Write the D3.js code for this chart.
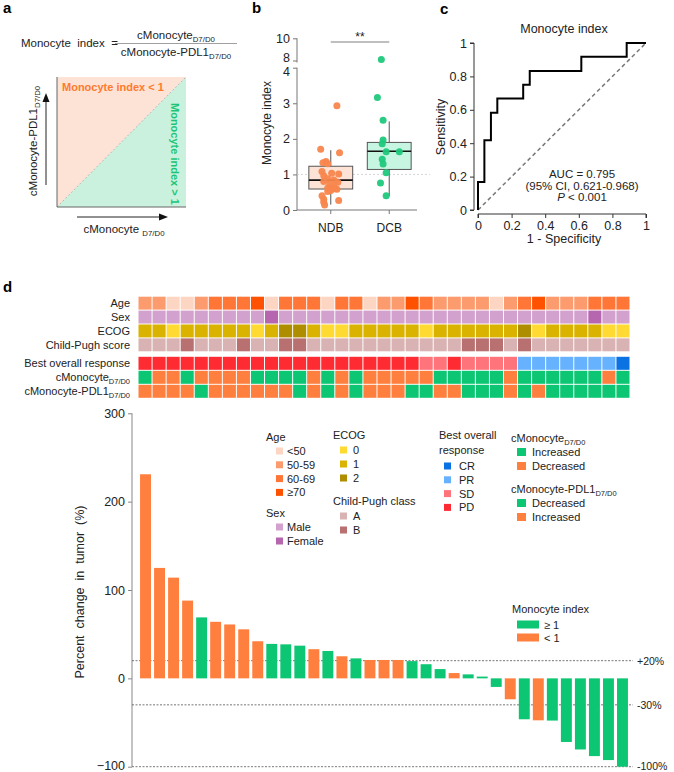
<!DOCTYPE html>
<html><head><meta charset="utf-8">
<script src="https://cdn.jsdelivr.net/npm/d3@7"></script>
<style>body{margin:0;background:#fff}svg{display:block;font-family:"Liberation Sans",Arial,sans-serif}</style>
</head><body>
<svg id="chart" width="674" height="772"></svg>
<script>
// ---------------- DATA ----------------
// Panel b
const groupsB = ["NDB", "DCB"];
const ndbValues = [2.93,1.71,1.61,1.36,1.33,1.30,1.08,1.03,1.01,0.96,0.88,0.84,0.80,0.78,0.72,0.66,0.62,0.58,0.55,0.52,0.40,0.30,0.27,0.22,0.14,0.60];
const ndbJitter = [0.14,-0.23,0.2,-0.11,-0.18,-0.07,-0.2,0.02,0.18,-0.16,-0.07,0.07,-0.16,0.16,-0.02,0.07,-0.07,0.14,0,-0.07,-0.2,-0.16,0.18,-0.16,-0.14,0.09];
const dcbValues = [8.1,3.16,2.52,1.97,1.86,1.64,1.64,1.43,1.29,1.05,0.76,0.40];
const dcbJitter = [-0.18,-0.27,-0.14,-0.14,-0.16,-0.07,0.23,-0.16,-0.14,-0.07,-0.2,-0.07];
const boxStats = { // [lowerWhisker, q1, median, q3, upperWhisker]
  NDB: [0.15, 0.59, 0.84, 1.23, 1.68],
  DCB: [0.39, 1.14, 1.65, 1.90, 2.49]
};
const lowerTicksB = [0,1,2,3,4];
const upperTicksB = [8,10];
// Panel c ROC
const rocFPR  = [0,0,0.038,0.038,0.077,0.077,0.115,0.115,0.269,0.269,0.308,0.308,0.615,0.615,0.885,0.885,1];
const rocTPR  = [0,0.167,0.167,0.417,0.417,0.583,0.583,0.667,0.667,0.75,0.75,0.833,0.833,0.917,0.917,1,1];
const rocTicks = [0,0.2,0.4,0.6,0.8,1];
// Panel d heatmap
const ageGroup = ["50-59","50-59","<50","<50","50-59","60-69","60-69","60-69","≥70","<50",
  "60-69","60-69","60-69","<50","60-69","60-69","<50","50-59","50-59","≥70",
  "60-69","50-59","50-59","50-59","50-59","<50","50-59","60-69","≥70","50-59",
  "50-59","50-59","60-69","60-69","60-69"];
const sex = ["Male","Male","Male","Male","Male","Male","Male","Male","Male","Female",
  "Male","Male","Male","Male","Male","Male","Male","Male","Male","Male",
  "Male","Male","Male","Male","Male","Male","Male","Male","Male","Male",
  "Male","Male","Female","Male","Male"];
const ecog = ["1","1","0","1","1","1","1","1","0","1","2","2","1","0","0","1","1","1","1","1",
  "0","1","1","1","1","1","1","2","0","1","1","1","1","0","0"];
const childPugh = ["A","A","A","B","A","A","A","B","A","A","B","B","A","A","A","A","A","A","A","A",
  "A","A","A","B","B","B","A","B","A","A","A","A","A","A","A"];
const bestResponse = ["PD","PD","PD","PD","PD","PD","PD","PD","PD","PD","PD","PD","PD","PD","PD","PD","PD","PD","PD","PD",
  "SD","SD","PD","SD","SD","SD","SD","PR","PR","PR","PR","PR","PR","PR","CR"];
const cMono = ["Increased","Decreased","Decreased","Increased","Decreased","Decreased","Decreased","Decreased","Increased","Increased",
  "Increased","Increased","Decreased","Increased","Decreased","Increased","Decreased","Decreased","Decreased","Decreased",
  "Decreased","Increased","Increased","Increased","Increased","Increased","Decreased","Increased","Increased","Increased",
  "Increased","Increased","Increased","Decreased","Increased"];
const cMonoPDL1 = ["Increased","Increased","Increased","Increased","Decreased","Increased","Increased","Increased","Increased","Increased",
  "Increased","Decreased","Increased","Decreased","Increased","Decreased","Increased","Increased","Increased","Decreased",
  "Decreased","Increased","Increased","Decreased","Decreased","Decreased","Increased","Decreased","Increased","Decreased",
  "Decreased","Decreased","Decreased","Decreased","Decreased"];
// Waterfall
const pctChange = [231,125,114,88,69,64,61,55.5,42,39,38.5,37,33,31,25,22.6,20.8,20.8,20.8,19.5,
  16,10.5,6,4.5,2,-9.7,-23.7,-46.3,-47.5,-47.8,-72,-80.5,-88,-92.5,-100];
const monoIndexGroup = ["<1","<1","<1","<1","≥1","<1","<1","<1","<1","≥1","≥1","≥1","<1","≥1","<1","≥1","<1","<1","<1","≥1",
  "≥1","≥1","<1","≥1","≥1","≥1","<1","≥1","<1","≥1","≥1","≥1","≥1","≥1","≥1"];
const waterTicks = [300,200,100,0,-100];
const refLines = [20,-30,-100];
const refLabels = ["+20%","-30%","-100%"];

// ---------------- COLOURS ----------------
const GREEN = "#0DC673", ORANGE = "#FF7F3F";
const colAge = {"<50":"#FDD6C3","50-59":"#FC9B6D","60-69":"#FF7636","≥70":"#FF5200"};
const colSex = {"Male":"#D3A1CD","Female":"#B566AE"};
const colEcog = {"0":"#FFDA33","1":"#DAB300","2":"#AE8D00"};
const colCP = {"A":"#D9B3B3","B":"#B87070"};
const colBOR = {"CR":"#0A72E3","PR":"#66B2FF","SD":"#FF737A","PD":"#FF2B33"};
const colMono = {"Increased":GREEN,"Decreased":ORANGE};
const colPDL1 = {"Decreased":GREEN,"Increased":ORANGE};
const colIdx = {"≥1":GREEN,"<1":ORANGE};

const svg = d3.select("#chart");
const TXT = "#222";

function rich(sel, x, y, parts, size, anchor, transform) {
  const t = sel.append("text").attr("font-size", size).attr("fill", TXT)
    .attr("text-anchor", anchor || "start");
  if (transform) t.attr("transform", transform); else t.attr("x", x).attr("y", y);
  let shifted = false;
  parts.forEach(p => {
    const s = t.append("tspan").text(p[0]);
    if (p[1]) { s.attr("font-size", size * 0.68).attr("dy", size * 0.28); shifted = true; }
    else if (shifted) { s.attr("dy", -size * 0.28); shifted = false; }
  });
  return t;
}
function panelLetter(x, y, l) {
  svg.append("text").attr("x", x).attr("y", y).attr("font-size", 15).attr("font-weight", "bold").attr("fill", "#000").text(l);
}

// ---------------- PANEL A ----------------
panelLetter(3, 13, "a");
const gA = svg.append("g");
gA.append("text").attr("x", 21).attr("y", 47).attr("font-size", 11.5).attr("fill", TXT).attr("xml:space","preserve").text("Monocyte  index  =");
rich(gA, 176, 39, [["cMonocyte"],["D7/D0",1]], 11.5, "middle");
gA.append("line").attr("x1", 115).attr("x2", 237).attr("y1", 43.5).attr("y2", 43.5).attr("stroke", "#888").attr("stroke-width", 0.8);
rich(gA, 176, 56, [["cMonocyte-PDL1"],["D7/D0",1]], 11.5, "middle");
const sq = {x0: 57, x1: 186, y0: 77, y1: 207};
gA.append("path").attr("d", `M${sq.x0},${sq.y0}L${sq.x1},${sq.y0}L${sq.x0},${sq.y1}Z`).attr("fill", "#FDE3D5");
gA.append("path").attr("d", `M${sq.x1},${sq.y0}L${sq.x1},${sq.y1}L${sq.x0},${sq.y1}Z`).attr("fill", "#C9F1DD");
gA.append("line").attr("x1", sq.x0).attr("y1", sq.y1).attr("x2", sq.x1).attr("y2", sq.y0).attr("stroke", "#aaa").attr("stroke-dasharray", "2,2").attr("stroke-width", 0.8);
gA.append("path").attr("d", `M${sq.x0},${sq.y0}L${sq.x0},${sq.y1}L${sq.x1},${sq.y1}`).attr("fill", "none").attr("stroke", "#666").attr("stroke-width", 1);
gA.append("text").attr("x", 62).attr("y", 91).attr("font-size", 11).attr("font-weight", "bold").attr("fill", "#FF7A2E").text("Monocyte index < 1");
gA.append("text").attr("transform", "translate(171,103) rotate(90)").attr("font-size", 11).attr("font-weight", "bold").attr("fill", "#1BC578").text("Monocyte index > 1");
// arrows
gA.append("line").attr("x1", 46).attr("x2", 46).attr("y1", 185).attr("y2", 100).attr("stroke", "#222").attr("stroke-width", 1);
gA.append("path").attr("d", "M46,93L42.5,102L49.5,102Z").attr("fill", "#111");
gA.append("line").attr("x1", 77).attr("x2", 160).attr("y1", 217).attr("y2", 217).attr("stroke", "#222").attr("stroke-width", 1);
gA.append("path").attr("d", "M168,217L159,213.5L159,220.5Z").attr("fill", "#111");
rich(gA, 0, 0, [["cMonocyte-PDL1"],["D7/D0",1]], 11.5, "middle", "translate(37,141) rotate(-90)");
rich(gA, 124, 233, [["cMonocyte "],["D7/D0",1]], 11.5, "middle");

// ---------------- PANEL B ----------------
panelLetter(252, 13, "b");
const gB = svg.append("g");
const yLow = d3.scaleLinear().domain([0, 4]).range([210, 67.7]);
const yUp = d3.scaleLinear().domain([8, 10]).range([60.5, 38.3]);
const yB = v => v >= 8 ? yUp(v) : yLow(v);
const xB = d3.scaleBand().domain(groupsB).range([303, 417]).paddingInner(0.25).paddingOuter(0.1);
const axisCol = "#777";
const axL = gB.append("g").attr("transform", "translate(297,0)").call(d3.axisLeft(yLow).tickValues(lowerTicksB).tickSize(4).tickFormat(d3.format("d")));
const axU = gB.append("g").attr("transform", "translate(297,0)").call(d3.axisLeft(yUp).tickValues(upperTicksB).tickSize(4).tickFormat(d3.format("d")));
[axL, axU].forEach(a => {
  a.select(".domain").remove();
  a.selectAll(".tick line").attr("stroke", axisCol);
  a.selectAll(".tick text").attr("font-size", 12.5).attr("fill", TXT).attr("font-family", "Liberation Sans, Arial, sans-serif");
});
axU.selectAll(".tick text").filter(d => d === 8).attr("dy", "0.05em");
axL.selectAll(".tick text").filter(d => d === 4).attr("dy", "0.6em");
gB.append("line").attr("x1", 297).attr("x2", 297).attr("y1", yLow(0)).attr("y2", yLow(4)).attr("stroke", axisCol);
gB.append("line").attr("x1", 297).attr("x2", 297).attr("y1", yUp(8) + 2).attr("y2", yUp(10)).attr("stroke", axisCol);
// x axis
gB.append("line").attr("x1", 297).attr("x2", 417).attr("y1", 210).attr("y2", 210).attr("stroke", axisCol);
groupsB.forEach(g => {
  const cx = xB(g) + xB.bandwidth() / 2;
  gB.append("line").attr("x1", cx).attr("x2", cx).attr("y1", 210).attr("y2", 214).attr("stroke", axisCol);
  gB.append("text").attr("x", cx).attr("y", 232).attr("text-anchor", "middle").attr("font-size", 12).attr("fill", TXT).text(g);
});
gB.append("text").attr("transform", "translate(271,123) rotate(-90)").attr("text-anchor", "middle").attr("font-size", 12).attr("fill", TXT).text("Monocyte index");
// dashed ref at 1
gB.append("line").attr("x1", 297).attr("x2", 430).attr("y1", yLow(1)).attr("y2", yLow(1)).attr("stroke", "#ccc").attr("stroke-dasharray", "2,2").attr("stroke-width", 0.8);
// boxes
const boxFill = {NDB: "#FDE3D5", DCB: "#C6F5E1"};
groupsB.forEach(g => {
  const s = boxStats[g], x0 = xB(g), w = xB.bandwidth(), cx = x0 + w / 2;
  gB.append("line").attr("x1", cx).attr("x2", cx).attr("y1", yB(s[0])).attr("y2", yB(s[4])).attr("stroke", "#555").attr("stroke-width", 1);
  gB.append("rect").attr("x", x0).attr("width", w).attr("y", yB(s[3])).attr("height", yB(s[1]) - yB(s[3])).attr("fill", boxFill[g]).attr("stroke", "#555").attr("stroke-width", 1);
  gB.append("line").attr("x1", x0).attr("x2", x0 + w).attr("y1", yB(s[2])).attr("y2", yB(s[2])).attr("stroke", "#111").attr("stroke-width", 1.6);
});
const ptsB = [];
ndbValues.forEach((v, i) => ptsB.push({g: "NDB", v, j: ndbJitter[i], c: "#F8864D"}));
dcbValues.forEach((v, i) => ptsB.push({g: "DCB", v, j: dcbJitter[i], c: "#1FC87B"}));
gB.selectAll("circle.pt").data(ptsB).join("circle").attr("class", "pt")
  .attr("cx", d => xB(d.g) + xB.bandwidth() * (0.5 + d.j)).attr("cy", d => yB(d.v)).attr("r", 3.5)
  .attr("fill", d => d.c).attr("opacity", 0.95);
// significance
const sx0 = xB("NDB") + xB.bandwidth() / 2, sx1 = xB("DCB") + xB.bandwidth() / 2;
gB.append("line").attr("x1", sx0).attr("x2", sx1).attr("y1", 42).attr("y2", 42).attr("stroke", "#aaa").attr("stroke-width", 1.5);
gB.append("text").attr("x", (sx0 + sx1) / 2).attr("y", 41).attr("text-anchor", "middle").attr("font-size", 12).attr("fill", TXT).text("**");

// ---------------- PANEL C ----------------
panelLetter(440, 14, "c");
const gC = svg.append("g");
const xC = d3.scaleLinear().domain([0, 1]).range([478, 646]);
const yC = d3.scaleLinear().domain([0, 1]).range([210, 43]);
const axCx = gC.append("g").attr("transform", "translate(0,214)").call(d3.axisBottom(xC).tickValues(rocTicks).tickSize(4).tickFormat(d3.format("~g")));
const axCy = gC.append("g").attr("transform", "translate(474,0)").call(d3.axisLeft(yC).tickValues(rocTicks).tickSize(4).tickFormat(d3.format("~g")));
[axCx, axCy].forEach(a => {
  a.select(".domain").attr("stroke", "#333");
  a.selectAll(".tick line").attr("stroke", "#333");
  a.selectAll(".tick text").attr("font-size", 12.5).attr("fill", TXT).attr("font-family", "Liberation Sans, Arial, sans-serif");
});
axCx.select(".domain").attr("d", `M${xC(0)},4V0H${xC(1)}V4`);
axCy.select(".domain").attr("d", `M-4,${yC(0)}H0V${yC(1)}H-4`);
gC.append("line").attr("x1", xC(0)).attr("y1", yC(0)).attr("x2", xC(1)).attr("y2", yC(1)).attr("stroke", "#777").attr("stroke-width", 1.5).attr("stroke-dasharray", "4,3");
const rocPts = rocFPR.map((f, i) => [xC(f), yC(rocTPR[i])]);
gC.append("path").attr("d", d3.line()(rocPts)).attr("fill", "none").attr("stroke", "#000").attr("stroke-width", 2);
gC.append("text").attr("x", 564).attr("y", 33).attr("text-anchor", "middle").attr("font-size", 12.5).attr("fill", TXT).text("Monocyte index");
gC.append("text").attr("transform", "translate(445,127) rotate(-90)").attr("text-anchor", "middle").attr("font-size", 12.5).attr("fill", TXT).text("Sensitivity");
gC.append("text").attr("x", 564).attr("y", 243).attr("text-anchor", "middle").attr("font-size", 12.5).attr("fill", TXT).text("1 - Specificity");
gC.append("text").attr("x", 582).attr("y", 178).attr("text-anchor", "middle").attr("font-size", 11.5).attr("fill", TXT).text("AUC = 0.795");
gC.append("text").attr("x", 582).attr("y", 189.5).attr("text-anchor", "middle").attr("font-size", 11.5).attr("fill", TXT).text("(95% CI, 0.621-0.968)");
const pt = gC.append("text").attr("x", 582).attr("y", 201).attr("text-anchor", "middle").attr("font-size", 11.5).attr("fill", TXT);
pt.append("tspan").attr("font-style", "italic").text("P");
pt.append("tspan").text(" < 0.001");

// ---------------- PANEL D ----------------
panelLetter(3, 292, "d");
const gD = svg.append("g");
const idx = d3.range(pctChange.length);
const xHeat = d3.scaleBand().domain(idx).range([138.5, 629.5]).paddingInner(0.07);
const rows = [
  {label: [["Age"]], data: ageGroup, col: colAge},
  {label: [["Sex"]], data: sex, col: colSex},
  {label: [["ECOG"]], data: ecog, col: colEcog},
  {label: [["Child-Pugh score"]], data: childPugh, col: colCP},
  {label: [["Best overall response"]], data: bestResponse, col: colBOR},
  {label: [["cMonocyte"],["D7/D0",1]], data: cMono, col: colMono},
  {label: [["cMonocyte-PDL1"],["D7/D0",1]], data: cMonoPDL1, col: colPDL1}
];
const yRow1 = d3.scaleBand().domain([0,1,2,3]).range([296.7, 351.3]).paddingInner(0.07);
const yRow2 = d3.scaleBand().domain([4,5,6]).range([356.8, 397.8]).paddingInner(0.07);
rows.forEach((r, ri) => {
  const ys = ri < 4 ? yRow1 : yRow2;
  const y0 = ys(ri), h = ys.bandwidth();
  gD.selectAll(null).data(r.data).join("rect")
    .attr("x", (d, i) => xHeat(i)).attr("width", xHeat.bandwidth())
    .attr("y", y0).attr("height", h).attr("fill", d => r.col[d]);
  rich(gD, 130, y0 + h / 2 + 4, r.label, 11, "end");
});

// waterfall
const yW = d3.scaleLinear().domain([-100, 300]).range([766.7, 413.3]);
const xBar = d3.scaleBand().domain(idx).range([138.5, 629.5]).paddingInner(0.22).paddingOuter(0.11);
const axW = gD.append("g").attr("transform", "translate(132,0)").call(d3.axisLeft(yW).tickValues(waterTicks).tickSize(4));
axW.select(".domain").attr("stroke", "#888").attr("d", `M0,${yW(300)}V${yW(-100)}`);
axW.selectAll(".tick line").attr("stroke", "#888");
axW.selectAll(".tick text").attr("font-size", 12.5).attr("fill", TXT).attr("font-family", "Liberation Sans, Arial, sans-serif");
axW.selectAll(".tick text").filter(d => d === -100).attr("dy", "0.22em");
gD.append("text").attr("transform", `translate(84,${(yW(300)+yW(-100))/2 + 2}) rotate(-90)`).attr("text-anchor", "middle").attr("font-size", 12.5).attr("fill", TXT).attr("xml:space","preserve").text("Percent  change  in  tumor  (%)");
refLines.forEach((v, i) => {
  gD.append("line").attr("x1", 132).attr("x2", 633).attr("y1", yW(v)).attr("y2", yW(v)).attr("stroke", "#555").attr("stroke-width", 0.8).attr("stroke-dasharray", "2,1.5");
  gD.append("text").attr("x", 637).attr("y", Math.min(yW(v) + 4, 770)).attr("font-size", 10.5).attr("fill", TXT).text(refLabels[i]);
});
gD.selectAll("rect.bar").data(pctChange).join("rect").attr("class", "bar")
  .attr("x", (d, i) => xBar(i)).attr("width", xBar.bandwidth())
  .attr("y", d => yW(Math.max(0, d))).attr("height", d => Math.abs(yW(d) - yW(0)))
  .attr("fill", (d, i) => colIdx[monoIndexGroup[i]]);

// legends
function legendBlock(x, yTitle, titleParts, items, colors, sq, yStart, step, textX) {
  if (titleParts) titleParts.forEach((tp, k) => rich(gD, x, yTitle + 4 + k * 15, tp, 11, "start"));
  items.forEach((it, k) => {
    const cy = yStart + k * step;
    gD.append("rect").attr("x", x + sq.dx).attr("y", cy - sq.h / 2).attr("width", sq.w).attr("height", sq.h).attr("fill", colors[it]);
    gD.append("text").attr("x", textX).attr("y", cy + 4).attr("font-size", 11).attr("fill", TXT).text(it);
  });
}
const smallSq = {dx: 10, w: 7, h: 7};
legendBlock(266, 437, [[["Age"]]], ["<50","50-59","60-69","≥70"], colAge, smallSq, 451, 13.8, 287);
legendBlock(266, 513, [[["Sex"]]], ["Male","Female"], colSex, smallSq, 527, 14, 287);
legendBlock(333, 435, [[["ECOG"]]], ["0","1","2"], colEcog, {dx: 7, w: 7, h: 7}, 450, 14, 353);
legendBlock(333, 501, [[["Child-Pugh class"]]], ["A","B"], colCP, {dx: 7, w: 7, h: 7}, 516, 14, 353);
legendBlock(439, 435, [[["Best overall"]], [["response"]]], ["CR","PR","SD","PD"], colBOR, {dx: 5, w: 7, h: 7}, 466, 13.8, 459);
legendBlock(511, 438, [[["cMonocyte"],["D7/D0",1]]], ["Increased","Decreased"], colMono, {dx: 6, w: 9, h: 8}, 452, 14, 532);
legendBlock(511, 489, [[["cMonocyte-PDL1"],["D7/D0",1]]], ["Decreased","Increased"], colPDL1, {dx: 6, w: 9, h: 8}, 503, 14, 532);
// Monocyte index legend
rich(gD, 512, 613, [["Monocyte index"]], 11, "start");
[["≥1","≥ 1"],["<1","< 1"]].forEach((it, k) => {
  const cy = 624.5 + k * 13;
  gD.append("rect").attr("x", 517).attr("y", cy - 4).attr("width", 22).attr("height", 8).attr("fill", colIdx[it[0]]);
  gD.append("text").attr("x", 544).attr("y", cy + 4).attr("font-size", 11).attr("fill", TXT).text(it[1]);
});
</script>
</body></html>
